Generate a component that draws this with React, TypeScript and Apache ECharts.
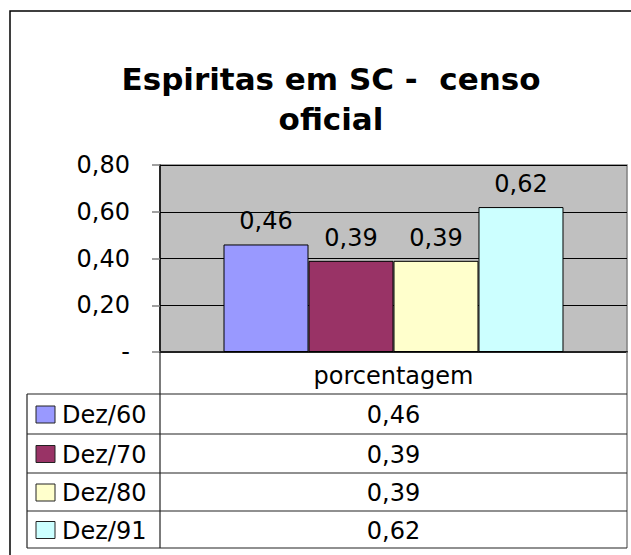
import React, { useEffect, useRef } from "react";
import * as echarts from "echarts";

const title = "Espiritas em SC -  censo\noficial";
const categories = ["porcentagem"];
const seriesNames = ["Dez/60", "Dez/70", "Dez/80", "Dez/91"];
const seriesValues = [0.46, 0.39, 0.39, 0.62];
const seriesColors = ["#9999FF", "#993366", "#FFFFCC", "#CCFFFF"];
const yTicks = [0, 0.2, 0.4, 0.6, 0.8];

const fmt = (v: number) => (v === 0 ? "-" : v.toFixed(2).replace(".", ","));

const W = 631;
const H = 555;
const FONT = "'DejaVu Sans', 'Liberation Sans', Arial, sans-serif";
const FS = 24;

export default function App() {
  const ref = useRef<HTMLDivElement>(null);
  useEffect(() => {
    document.body.style.margin = "0";
    const chart = echarts.init(ref.current!, null, { renderer: "svg" });

    const plotL = 160, plotR = 627, plotT = 165, plotB = 352;
    const tableL = 27, headB = 394;
    const rowLines = [394, 434, 473, 511, 548];
    const lineColor = "#222";

    const graphics: any[] = [];
    graphics.push({
      type: "rect",
      shape: { x: 10, y: 11, width: 700, height: 700 },
      style: { fill: "none", stroke: "#000", lineWidth: 1.5 },
      z: 100,
    });
    graphics.push({ type: "line", shape: { x1: plotL, y1: plotB, x2: plotL, y2: rowLines[4] }, style: { stroke: lineColor, lineWidth: 1.2 }, z: 50 });
    graphics.push({ type: "line", shape: { x1: tableL, y1: headB, x2: tableL, y2: rowLines[4] }, style: { stroke: lineColor, lineWidth: 1.2 }, z: 50 });
    graphics.push({ type: "line", shape: { x1: plotR, y1: plotB, x2: plotR, y2: rowLines[4] }, style: { stroke: "#808080", lineWidth: 1.5 }, z: 50 });
    rowLines.forEach((y) => {
      graphics.push({ type: "line", shape: { x1: tableL, y1: y, x2: plotR, y2: y }, style: { stroke: lineColor, lineWidth: 1.2 }, z: 50 });
    });
    seriesNames.forEach((name, i) => {
      const cy = (rowLines[i] + rowLines[i + 1]) / 2;
      graphics.push({
        type: "rect",
        shape: { x: 36, y: cy - 8, width: 19, height: 17 },
        style: { fill: seriesColors[i], stroke: "#222", lineWidth: 1 },
        z: 50,
      });
      graphics.push({
        type: "text",
        x: 62,
        y: cy + 1,
        style: { text: name, font: `${FS}px ${FONT}`, fill: "#000", textVerticalAlign: "middle", textAlign: "left" },
        z: 50,
      });
      graphics.push({
        type: "text",
        x: (plotL + plotR) / 2,
        y: cy + 1,
        style: { text: fmt(seriesValues[i]), font: `${FS}px ${FONT}`, fill: "#000", textVerticalAlign: "middle", textAlign: "center" },
        z: 50,
      });
    });

    chart.setOption({
      animation: false,
      backgroundColor: "#fff",
      title: {
        text: title,
        left: 326,
        textAlign: "center",
        top: 54,
        textStyle: { fontFamily: FONT, fontWeight: "bold", fontSize: 31, color: "#000", lineHeight: 40 },
      },
      grid: {
        left: plotL,
        right: W - plotR,
        top: plotT,
        bottom: H - plotB,
        show: true,
        backgroundColor: "#C0C0C0",
        borderColor: "#808080",
        borderWidth: 1.5,
      },
      xAxis: {
        type: "category",
        data: categories,
        axisLine: { show: true, lineStyle: { color: "#222", width: 2 } },
        axisTick: { show: false },
        axisLabel: { fontFamily: FONT, fontSize: FS, color: "#000", margin: 12 },
      },
      yAxis: {
        type: "value",
        min: yTicks[0],
        max: yTicks[yTicks.length - 1],
        interval: 0.2,
        axisLine: { show: true, lineStyle: { color: "#000", width: 1.5 } },
        axisTick: { show: true, length: 8, lineStyle: { color: "#808080", width: 1.5 } },
        splitLine: { show: true, lineStyle: { color: "#000", width: 1 } },
        axisLabel: { fontFamily: FONT, fontSize: FS, color: "#000", margin: 30, formatter: (v: number) => fmt(v) },
      },
      series: seriesNames.map((name, i) => ({
        type: "bar",
        name,
        data: [seriesValues[i]],
        barGap: "0%",
        barCategoryGap: "27.2%",
        itemStyle: { color: seriesColors[i], borderColor: "#000", borderWidth: 1 },
        label: {
          show: true,
          position: "top",
          distance: 11,
          fontFamily: FONT,
          fontSize: FS,
          color: "#000",
          formatter: (p: any) => fmt(p.value),
        },
      })),
      graphic: graphics,
    });
    return () => chart.dispose();
  }, []);
  return <div ref={ref} style={{ width: W, height: H }} />;
}
